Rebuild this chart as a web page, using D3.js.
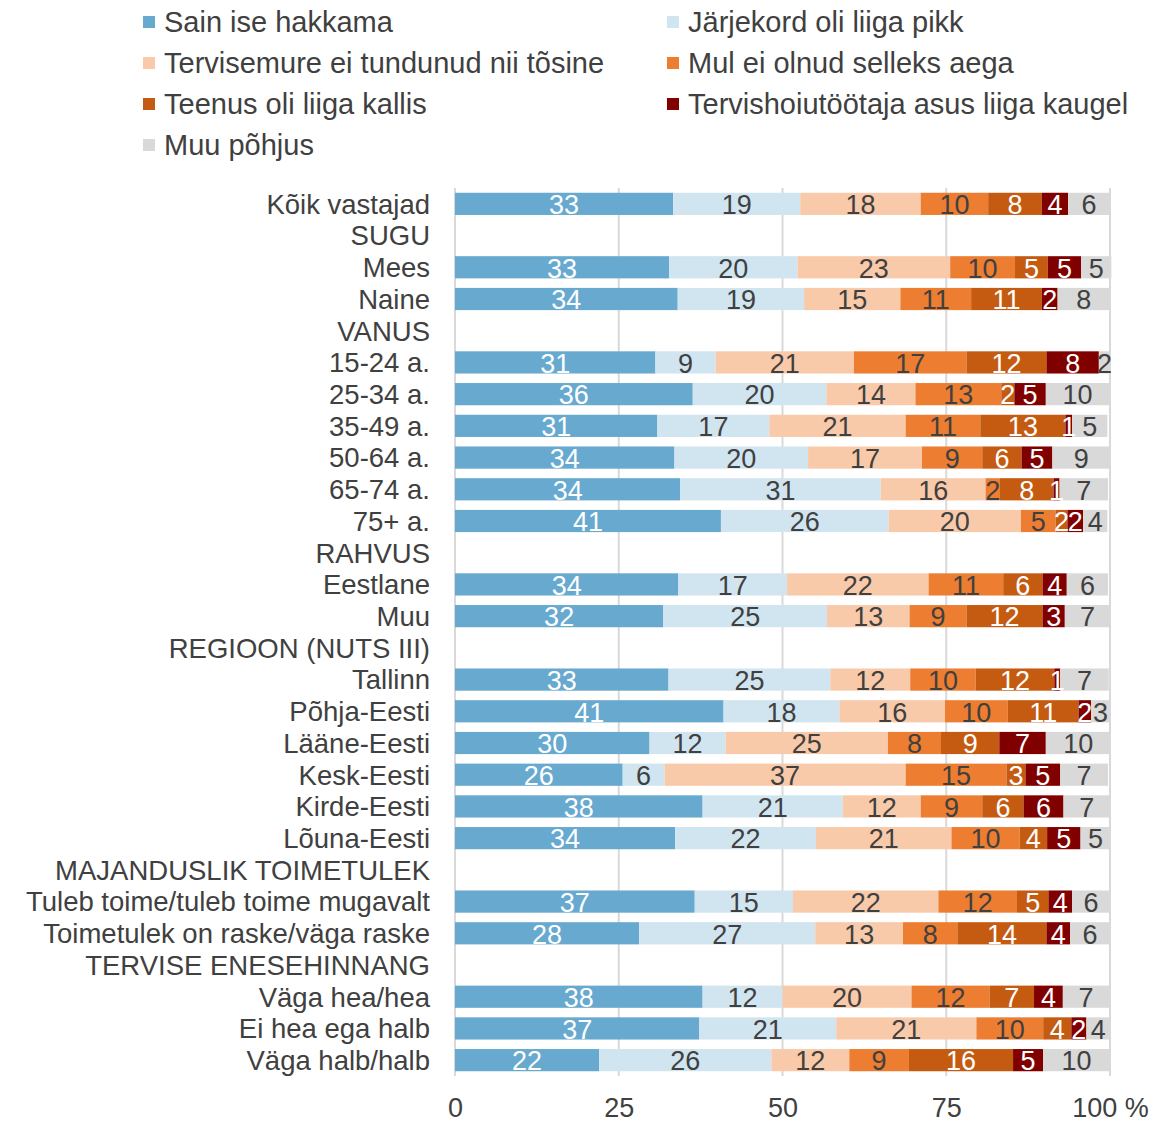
<!DOCTYPE html>
<html>
<head>
<meta charset="utf-8">
<script src="https://cdn.jsdelivr.net/npm/d3@7"></script>
<style>
  body { margin: 0; background: #fff; }
  svg text { font-family: "Liberation Sans", Arial, sans-serif; }
</style>
</head>
<body>
<svg id="chart" width="1173" height="1124"></svg>
<script>
// categories, headers have no bar (null values)
var categories = ["Kõik vastajad", "SUGU", "Mees", "Naine", "VANUS", "15-24 a.", "25-34 a.", "35-49 a.",
  "50-64 a.", "65-74 a.", "75+ a.", "RAHVUS", "Eestlane", "Muu", "REGIOON (NUTS III)", "Tallinn",
  "Põhja-Eesti", "Lääne-Eesti", "Kesk-Eesti", "Kirde-Eesti", "Lõuna-Eesti", "MAJANDUSLIK TOIMETULEK",
  "Tuleb toime/tuleb toime mugavalt", "Toimetulek on raske/väga raske", "TERVISE ENESEHINNANG",
  "Väga hea/hea", "Ei hea ega halb", "Väga halb/halb"];

var seriesNames = ["Sain ise hakkama", "Järjekord oli liiga pikk", "Tervisemure ei tundunud nii tõsine",
  "Mul ei olnud selleks aega", "Teenus oli liiga kallis", "Tervishoiutöötaja asus liiga kaugel", "Muu põhjus"];

var colors = ["#67a9cf", "#d1e5f0", "#f8caaa", "#ed7d31", "#c55a11", "#800000", "#d9d9d9"];
var labelColors = ["#fff", "#404040", "#404040", "#404040", "#fff", "#fff", "#404040"];

var saiIse      = [33.3, null, 32.7, 34.0, null, 30.6, 36.3, 30.9, 33.5, 34.4, 40.6, null, 34.1, 31.8, null, 32.6, 41.0, 29.7, 25.6, 37.8, 33.6, null, 36.6, 28.1, null, 37.8, 37.3, 22.0];
var jarjekord   = [19.4, null, 19.6, 19.3, null, 9.2, 20.4, 17.1, 20.4, 30.6, 25.6, null, 16.6, 25.0, null, 24.7, 17.7, 11.6, 6.4, 21.4, 21.5, null, 15.0, 26.9, null, 12.2, 20.9, 26.3];
var tervisemure = [18.4, null, 23.3, 14.7, null, 21.1, 13.6, 20.8, 17.4, 16.0, 20.2, null, 21.6, 12.6, null, 12.2, 16.1, 24.8, 36.8, 11.9, 20.7, null, 22.2, 13.4, null, 19.7, 21.4, 11.9];
var aega        = [10.3, null, 9.9, 10.8, null, 17.2, 13.1, 11.4, 9.2, 2.2, 5.3, null, 11.4, 8.7, null, 10.0, 9.6, 8.1, 15.4, 9.4, 10.4, null, 12.0, 8.3, null, 11.9, 10.2, 9.1];
var kallis      = [8.2, null, 5.0, 10.8, null, 12.2, 2.0, 13.0, 6.0, 8.2, 1.8, null, 6.0, 11.6, null, 12.0, 10.8, 8.9, 2.9, 6.3, 4.2, null, 4.8, 13.6, null, 6.8, 4.3, 15.9];
var kaugel      = [4.0, null, 5.1, 2.4, null, 8.0, 4.8, 1.0, 4.7, 0.9, 2.4, null, 3.7, 3.4, null, 0.9, 1.9, 7.1, 5.3, 6.1, 5.1, null, 3.6, 3.6, null, 4.4, 2.3, 4.6];
var muu         = [6.4, null, 4.6, 8.0, null, 1.7, 9.7, 5.4, 8.8, 7.4, 3.7, null, 6.3, 6.9, null, 7.4, 2.9, 9.9, 7.3, 7.1, 4.6, null, 5.8, 6.1, null, 7.1, 3.6, 10.2];

var xTicks = [0, 25, 50, 75, 100];

var allSeries = [saiIse, jarjekord, tervisemure, aega, kallis, kaugel, muu];

var svg = d3.select("#chart");
var margin = {left: 455, right: 63, top: 188, bottom: 48};
var W = 1173, H = 1124;

var x = d3.scaleLinear().domain([0, 100]).range([margin.left, W - margin.right]);
var y = d3.scaleBand().domain(categories).range([margin.top, H - margin.bottom]).paddingInner(0.3).paddingOuter(0.15);

// gridlines
svg.append("g").selectAll("line")
  .data(xTicks)
  .enter().append("line")
  .attr("x1", function(d) { return x(d); })
  .attr("x2", function(d) { return x(d); })
  .attr("y1", margin.top)
  .attr("y2", H - margin.bottom)
  .attr("stroke", "#d9d9d9")
  .attr("stroke-width", 2);

// stacked rows
var rows = categories.map(function(c, i) {
  var o = {cat: c};
  seriesNames.forEach(function(s, k) { o[s] = allSeries[k][i] || 0; });
  o.header = allSeries[0][i] == null;
  return o;
});
var stack = d3.stack().keys(seriesNames)(rows);

var layers = svg.append("g").selectAll("g")
  .data(stack)
  .enter().append("g")
  .attr("fill", function(d, i) { return colors[i]; });

layers.selectAll("rect")
  .data(function(d) { return d.filter(function(p) { return !p.data.header; }); })
  .enter().append("rect")
  .attr("x", function(d) { return x(d[0]); })
  .attr("y", function(d) { return y(d.data.cat); })
  .attr("width", function(d) { return x(d[1]) - x(d[0]); })
  .attr("height", y.bandwidth());

// segment labels
stack.forEach(function(layer, i) {
  svg.append("g").selectAll("text")
    .data(layer.filter(function(p) { return !p.data.header; }))
    .enter().append("text")
    .attr("x", function(d) { return (x(d[0]) + x(d[1])) / 2; })
    .attr("y", function(d) { return y(d.data.cat) + y.bandwidth() / 2; })
    .attr("dy", "0.38em")
    .attr("text-anchor", "middle")
    .attr("font-size", 27)
    .attr("fill", labelColors[i])
    .text(function(d) { return Math.round(d[1] - d[0]); });
});

// category labels
svg.append("g").selectAll("text")
  .data(categories)
  .enter().append("text")
  .attr("x", 430)
  .attr("y", function(d) { return y(d) + y.bandwidth() / 2; })
  .attr("dy", "0.36em")
  .attr("text-anchor", "end")
  .attr("font-size", 27.5)
  .attr("fill", "#404040")
  .text(function(d) { return d; });

// x axis
var xAxis = d3.axisBottom(x).tickValues(xTicks).tickSize(0).tickPadding(22)
  .tickFormat(function(d) { return d === 100 ? "100 %" : d; });
var ax = svg.append("g")
  .attr("transform", "translate(0," + (H - margin.bottom) + ")")
  .call(xAxis);
ax.select(".domain").remove();
ax.selectAll("text").attr("font-size", 27).attr("fill", "#404040")
  .attr("font-family", "Liberation Sans, Arial, sans-serif");

// legend
var legend = svg.append("g");
var lg = legend.selectAll("g")
  .data(seriesNames)
  .enter().append("g")
  .attr("transform", function(d, i) {
    return "translate(" + (i % 2 ? 667 : 143) + "," + (22 + Math.floor(i / 2) * 41) + ")";
  });
lg.append("rect")
  .attr("x", 0).attr("y", -6)
  .attr("width", 12).attr("height", 12)
  .attr("fill", function(d, i) { return colors[i]; });
lg.append("text")
  .attr("x", 21)
  .attr("dy", "0.36em")
  .attr("font-size", 29)
  .attr("fill", "#404040")
  .text(function(d) { return d; });
</script>
</body>
</html>
